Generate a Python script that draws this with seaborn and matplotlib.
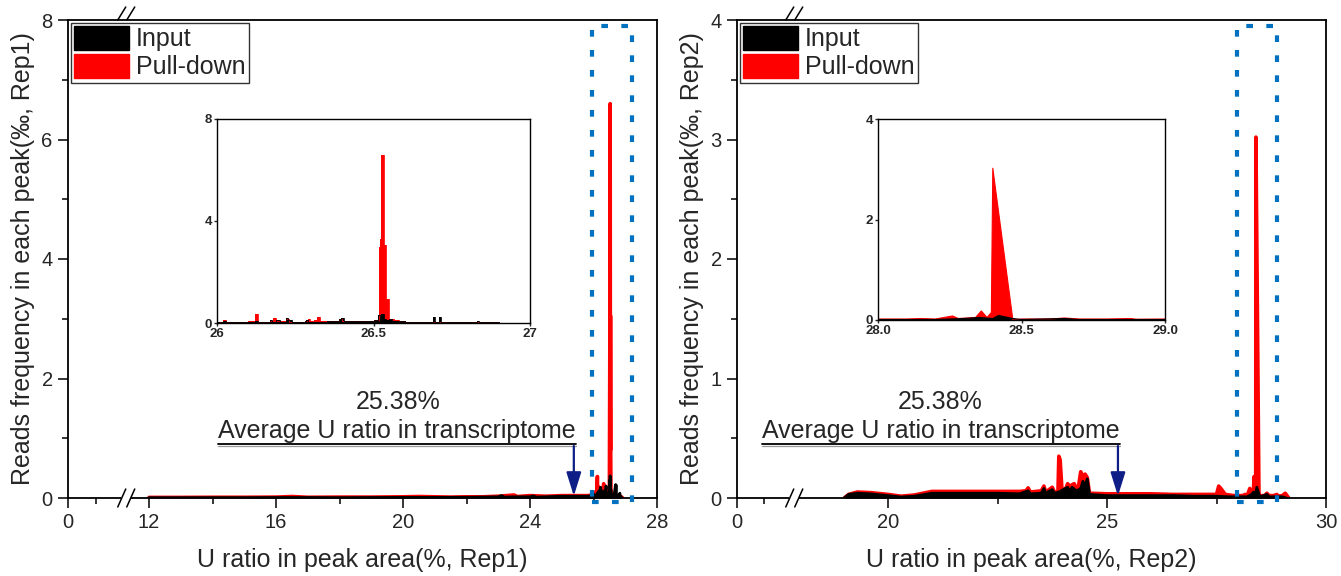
import numpy as np
import matplotlib
matplotlib.use("Agg")
import matplotlib.pyplot as plt
import seaborn as sns
from matplotlib.patches import Patch, Rectangle

# ---------------- data ----------------
# Rep1 : Input (black)
rep1_input_x = [12.0, 13.0, 14.0, 15.0, 16.0, 17.0, 18.0, 19.0, 20.0, 21.0, 22.0, 22.5, 23.0, 23.1,
                23.2, 23.5, 24.0, 24.1, 24.2, 24.5, 25.0, 25.5, 25.8, 26.0, 26.02, 26.03, 26.1, 26.12,
                26.13, 26.17, 26.177, 26.19, 26.2, 26.22, 26.228, 26.24, 26.28, 26.285, 26.29, 26.35,
                26.39, 26.397, 26.405, 26.45, 26.5, 26.515, 26.52, 26.525, 26.532, 26.54, 26.55, 26.56,
                26.6, 26.65, 26.69, 26.697, 26.7, 26.71, 26.717, 26.72, 26.75, 26.8, 26.83, 26.837,
                26.87, 26.9]
rep1_input_y = [0.005, 0.005, 0.006, 0.006, 0.008, 0.008, 0.006, 0.008, 0.01, 0.01, 0.012, 0.015, 0.02, 0.04,
                0.015, 0.02, 0.02, 0.035, 0.015, 0.02, 0.03, 0.03, 0.03, 0.04, 0.06, 0.03, 0.05, 0.08,
                0.04, 0.12, 0.05, 0.1, 0.04, 0.18, 0.12, 0.04, 0.06, 0.12, 0.05, 0.06,
                0.15, 0.2, 0.06, 0.07, 0.1, 0.3, 0.2, 0.37, 0.15, 0.12, 0.14, 0.06,
                0.05, 0.04, 0.22, 0.04, 0.05, 0.22, 0.04, 0.04, 0.03, 0.03, 0.08, 0.03,
                0.02, 0.0]
# Rep1 : Pull-down (red)
rep1_pull_x = [12.0, 13.0, 14.0, 15.0, 16.0, 16.5, 16.7, 17.0, 18.0, 19.0, 20.0, 20.5, 21.0, 21.5,
               22.0, 22.5, 23.0, 23.5, 23.6, 24.0, 24.5, 25.0, 25.5, 25.8, 26.0, 26.02, 26.03, 26.1,
               26.1225, 26.13, 26.17, 26.18, 26.19, 26.22, 26.23, 26.28, 26.29, 26.297, 26.31, 26.32,
               26.33, 26.39, 26.4, 26.45, 26.5, 26.5165, 26.5197, 26.525, 26.5325, 26.5346, 26.54,
               26.5485, 26.564, 26.58, 26.6, 26.65, 26.7, 26.75, 26.8, 26.85, 26.9, 26.92]
rep1_pull_y = [0.01, 0.01, 0.012, 0.012, 0.015, 0.025, 0.02, 0.012, 0.015, 0.015, 0.02, 0.025, 0.02, 0.015,
               0.02, 0.02, 0.03, 0.05, 0.025, 0.04, 0.03, 0.04, 0.04, 0.04, 0.05, 0.1, 0.05, 0.06,
               0.36, 0.05, 0.08, 0.18, 0.06, 0.15, 0.05, 0.06, 0.17, 0.08, 0.12, 0.24,
               0.06, 0.14, 0.08, 0.06, 0.1, 3.0, 3.3, 6.6, 0.8, 3.05, 0.95,
               0.15, 0.1, 0.08, 0.05, 0.04, 0.03, 0.04, 0.05, 0.03, 0.01, 0.0]

# Rep2 : Input (black)
rep2_input_x = [19.0, 19.1, 19.3, 19.6, 20.0, 20.3, 20.6, 21.0, 21.5, 22.0, 22.5, 23.0, 23.2, 23.25,
                23.5, 23.56, 23.6, 23.75, 23.8, 23.9, 24.0, 24.1, 24.15, 24.2, 24.3, 24.4, 24.45,
                24.5, 24.55, 24.6, 25.0, 25.5, 26.0, 26.5, 27.0, 27.5, 27.8, 28.0, 28.2, 28.3,
                28.35, 28.4, 28.42, 28.47, 28.5, 28.65, 28.7, 29.0, 29.1]
rep2_input_y = [0.0, 0.03, 0.04, 0.035, 0.02, 0.008, 0.015, 0.04, 0.04, 0.04, 0.04, 0.035, 0.06, 0.035,
                0.04, 0.08, 0.04, 0.07, 0.04, 0.05, 0.07, 0.09, 0.05, 0.09, 0.06, 0.08, 0.14,
                0.1, 0.16, 0.03, 0.02, 0.02, 0.02, 0.02, 0.015, 0.015, 0.01, 0.01, 0.01, 0.03,
                0.05, 0.03, 0.09, 0.03, 0.01, 0.03, 0.01, 0.01, 0.0]
# Rep2 : Pull-down (red)
rep2_pull_x = [19.0, 19.1, 19.3, 19.6, 20.0, 20.3, 20.6, 21.0, 21.5, 22.0, 22.5, 23.0, 23.15, 23.2,
               23.25, 23.5, 23.56, 23.6, 23.75, 23.8, 23.88, 23.9, 23.93, 23.97, 24.05, 24.1, 24.15,
               24.2, 24.25, 24.3, 24.35, 24.4, 24.45, 24.5, 24.55, 24.6, 25.0, 25.5, 26.0, 26.5,
               27.0, 27.5, 27.55, 27.6, 27.7, 27.9, 28.0, 28.1, 28.15, 28.2, 28.26, 28.28, 28.34,
               28.36, 28.38, 28.395, 28.40, 28.47, 28.5, 28.6, 28.65, 28.7, 28.8, 28.88, 28.9,
               29.0, 29.07, 29.15]
rep2_pull_y = [0.0, 0.03, 0.05, 0.045, 0.03, 0.015, 0.025, 0.055, 0.055, 0.055, 0.055, 0.055, 0.06, 0.085,
               0.05, 0.06, 0.1, 0.05, 0.09, 0.05, 0.05, 0.35, 0.32, 0.08, 0.07, 0.12, 0.1,
               0.11, 0.12, 0.08, 0.1, 0.22, 0.18, 0.2, 0.17, 0.04, 0.035, 0.035, 0.035, 0.03,
               0.03, 0.03, 0.1, 0.08, 0.03, 0.02, 0.02, 0.02, 0.03, 0.02, 0.08, 0.03, 0.05,
               0.18, 0.05, 0.15, 3.02, 0.0, 0.02, 0.02, 0.04, 0.02, 0.02, 0.03, 0.015,
               0.02, 0.04, 0.0]

series_names = ["Input", "Pull-down"]
avg_label = "25.38%"
avg_text = "Average U ratio in transcriptome"
xlabels = ["U ratio in peak area(%, Rep1)", "U ratio in peak area(%, Rep2)"]
ylabels = ["Reads frequency in each peak(\u2030, Rep1)", "Reads frequency in each peak(\u2030, Rep2)"]
main_xticks = [[0, 12, 16, 20, 24, 28], [0, 20, 25, 30]]
main_xminor = [[2, 14, 18, 22, 26], [2.5, 22.5, 27.5]]
main_yticks = [[0, 2, 4, 6, 8], [0, 1, 2, 3, 4]]
main_yminor = [[1, 3, 5, 7], [0.5, 1.5, 2.5, 3.5]]
inset_xticks = [[26, 26.5, 27], [28.0, 28.5, 29.0]]
inset_xticklabels = [["26", "26.5", "27"], ["28.0", "28.5", "29.0"]]
inset_yticks = [[0, 4, 8], [0, 2, 4]]
box_x = [(25.95, 27.2), (27.96, 28.87)]
arrow_x = [25.38, 25.25]

# ---------------- style ----------------
sns.set_style("ticks")
plt.rcParams["font.family"] = ["Liberation Sans", "DejaVu Sans"]
plt.rcParams["axes.linewidth"] = 1.3

RED = "#FF0000"
BLACK = "#000000"
BLUE = "#0070C0"
NAVY = "#0E1E86"

W, H = 1341, 576
fig = plt.figure(figsize=(W / 100, H / 100), dpi=100)


def fig_rect(x0, y0, x1, y1):
    return [x0 / W, 1 - y1 / H, (x1 - x0) / W, (y1 - y0) / H]


def make_scale(s1, a1, b1, s2, gap=0.5):
    brk = s1 * a1

    def fwd(x):
        x = np.asarray(x, float)
        return np.where(x <= a1, x * s1,
                        np.where(x >= b1, brk + gap + (x - b1) * s2,
                                 brk + (x - a1) / (b1 - a1) * gap))

    def inv(y):
        y = np.asarray(y, float)
        return np.where(y <= brk, y / s1,
                        np.where(y >= brk + gap, b1 + (y - brk - gap) / s2,
                                 a1 + (y - brk) / gap * (b1 - a1)))
    return fwd, inv, brk + gap / 2


panels = [
    dict(rect=fig_rect(68, 20, 657, 498), inset=fig_rect(217, 119, 530, 323),
         scale=(14.0, 58.0 / 14.0, 11.29, 31.75), xlim=(0, 28), ylim=(0, 8),
         inx=(26, 27), iny=(0, 8), step=True,
         xi=rep1_input_x, yi=rep1_input_y, xp=rep1_pull_x, yp=rep1_pull_y),
    dict(rect=fig_rect(737, 20, 1326, 498), inset=fig_rect(878, 119, 1165, 320),
         scale=(10.8, 57.0 / 10.8, 17.865, 43.8), xlim=(0, 30), ylim=(0, 4),
         inx=(28, 29), iny=(0, 4), step=False,
         xi=rep2_input_x, yi=rep2_input_y, xp=rep2_pull_x, yp=rep2_pull_y),
]

AXW = 589.0
AXH = 478.0

for i, p in enumerate(panels):
    ax = fig.add_axes(p["rect"])
    fwd, inv, brk_px = make_scale(*p["scale"])
    ax.set_xscale("function", functions=(fwd, inv))
    ax.set_xlim(*p["xlim"])
    ax.set_ylim(*p["ylim"])

    # filled traces
    ax.fill_between(p["xp"], 0, p["yp"], color=RED, lw=0, zorder=2)
    sns.lineplot(x=p["xp"], y=p["yp"], color=RED, lw=2.6, ax=ax, zorder=2.1, sort=False)
    ax.fill_between(p["xi"], 0, p["yi"], color=BLACK, lw=0, zorder=3)
    sns.lineplot(x=p["xi"], y=p["yi"], color=BLACK, lw=2.0, ax=ax, zorder=3.1, sort=False)

    ax.set_xticks(main_xticks[i])
    ax.set_xticklabels([str(t) for t in main_xticks[i]])
    ax.set_xticks(main_xminor[i], minor=True)
    ax.set_yticks(main_yticks[i])
    ax.set_yticks(main_yminor[i], minor=True)
    ax.tick_params(axis="both", which="major", direction="out", length=7, width=1.3,
                   labelsize=14.5, pad=4)
    ax.tick_params(axis="both", which="minor", direction="out", length=4, width=1.3)
    for s in ax.spines.values():
        s.set_visible(True)
        s.set_linewidth(1.3)
        s.set_color("black")
    ax.set_xlabel(xlabels[i], fontsize=18, labelpad=11)
    ax.set_ylabel(ylabels[i], fontsize=18, labelpad=5)

    # axis break marks
    bx = brk_px / AXW
    dx = 9.0 / AXW
    ax.add_patch(Rectangle((bx - dx * 0.55, -6 / AXH), dx * 1.1, 8 / AXH, transform=ax.transAxes,
                           facecolor="white", edgecolor="none", clip_on=False, zorder=10))
    for off in (-4.5, 4.5):
        cx = bx + off / AXW
        ax.plot([cx - 4 / AXW, cx + 4 / AXW], [-9 / AXH, 9 / AXH], color="black", lw=1.1,
                transform=ax.transAxes, clip_on=False, zorder=11)
        ax.plot([cx - 4 / AXW, cx + 4 / AXW], [1.0, 1 + 13 / AXH], color="black", lw=1.1,
                transform=ax.transAxes, clip_on=False, zorder=11)

    # dotted highlight box
    x0, x1 = box_x[i]
    ymax = p["ylim"][1]
    ax.add_patch(Rectangle((x0, -0.0085 * ymax), x1 - x0, ymax * 0.9955, fill=False,
                           edgecolor=BLUE, lw=3.0, linestyle=(0, (1.6, 3.2)),
                           clip_on=False, zorder=5))

    # legend
    handles = [Patch(facecolor=BLACK, edgecolor=BLACK), Patch(facecolor=RED, edgecolor=RED)]
    leg = ax.legend(handles, series_names, loc="upper left", bbox_to_anchor=(0, 1),
                    borderaxespad=0.1, frameon=True, fancybox=False, framealpha=1,
                    edgecolor="#333333", fontsize=18, handlelength=2.2, handleheight=1.1,
                    labelspacing=0.12, handletextpad=0.3, borderpad=0.12)
    leg.get_frame().set_linewidth(1.0)

    # annotation
    if i == 0:
        tx_c, tx_l, tx_r = (398 - 68) / AXW, (218 - 68) / AXW, (576 - 68) / AXW
    else:
        tx_c, tx_l, tx_r = (940 - 737) / AXW, (762 - 737) / AXW, (1120 - 737) / AXW
    ax.text(tx_c, (498 - 402) / AXH, avg_label, transform=ax.transAxes, ha="center",
            va="center", fontsize=18)
    ax.text(tx_l, (498 - 431) / AXH, avg_text, transform=ax.transAxes, ha="left",
            va="center", fontsize=18)
    ax.plot([tx_l, tx_r], [(498 - 444) / AXH] * 2, color="black", lw=1.3,
            transform=ax.transAxes, clip_on=False)
    ax.plot([tx_l, tx_r], [(498 - 446) / AXH] * 2, color="#999999", lw=0.9,
            transform=ax.transAxes, clip_on=False)
    ax.annotate("", xy=(arrow_x[i], ymax * 2 / AXH),
                xytext=(arrow_x[i], ymax * 52 / AXH),
                arrowprops=dict(arrowstyle="-|>,head_length=0.8,head_width=0.25",
                                color=NAVY, lw=1.6, mutation_scale=18, shrinkA=0, shrinkB=0),
                zorder=6)

    # inset
    ins = fig.add_axes(p["inset"])
    if p["step"]:
        ins.fill_between(p["xp"], 0, p["yp"], color=RED, lw=0, step="post")
        ins.fill_between(p["xi"], 0, p["yi"], color=BLACK, lw=0, step="post")
        sns.lineplot(x=p["xp"], y=p["yp"], color=RED, lw=0.6, ax=ins, sort=False,
                     drawstyle="steps-post")
        sns.lineplot(x=p["xi"], y=p["yi"], color=BLACK, lw=0.6, ax=ins, sort=False,
                     drawstyle="steps-post")
    else:
        ins.fill_between(p["xp"], 0, p["yp"], color=RED, lw=0)
        sns.lineplot(x=p["xp"], y=p["yp"], color=RED, lw=0.8, ax=ins, sort=False)
        ins.fill_between(p["xi"], 0, p["yi"], color=BLACK, lw=0)
        sns.lineplot(x=p["xi"], y=p["yi"], color=BLACK, lw=0.8, ax=ins, sort=False)
    ins.set_xlim(*p["inx"])
    ins.set_ylim(*p["iny"])
    ins.set_xticks(inset_xticks[i])
    ins.set_xticklabels(inset_xticklabels[i])
    ins.set_yticks(inset_yticks[i])
    ins.tick_params(axis="both", which="major", direction="out", length=2, width=1,
                    labelsize=9.5, pad=1.5)
    for lab in ins.get_xticklabels() + ins.get_yticklabels():
        lab.set_fontweight("bold")
    for s in ins.spines.values():
        s.set_visible(True)
        s.set_linewidth(1.0)
        s.set_color("black")
    ins.set_xlabel("")
    ins.set_ylabel("")

fig.savefig("out.png", dpi=100)
